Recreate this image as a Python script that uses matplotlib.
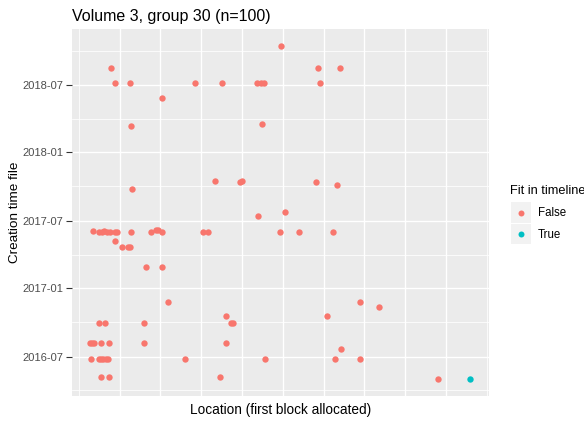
import numpy as np
import pandas as pd
import matplotlib
matplotlib.use("Agg")
import matplotlib.pyplot as plt
from matplotlib.patches import Rectangle
from matplotlib.lines import Line2D

plt.rcParams["font.family"] = ["Liberation Sans", "DejaVu Sans"]

TITLE = "Volume 3, group 30 (n=100)"
X_LABEL = "Location (first block allocated)"
Y_LABEL = "Creation time file"
LEGEND_TITLE = "Fit in timeline"
LEGEND_LABELS = ["False", "True"]

# x = location (arbitrary units, labels hidden in the original), y = creation date
loc_false = [
    4.95, 0.79, 5.87, 6.39, 0.89, 1.26, 2.86, 3.50, 4.37, 4.46, 4.54, 5.91,
    2.04, 1.28, 4.49, 3.34, 3.95, 3.99, 5.81, 6.32, 1.30, 4.39, 5.05,
    0.36, 0.50, 0.56, 0.61, 0.69, 0.77, 0.89, 0.95, 1.28, 1.76, 1.89, 1.95,
    2.05, 3.04, 3.17, 4.93, 5.39, 6.23,
    0.89, 1.07, 1.21, 1.26, 1.65, 2.05, 2.19, 6.88, 7.36, 3.62, 6.08,
    0.49, 0.64, 1.59, 3.73, 3.77,
    0.28, 0.33, 0.38, 0.55, 0.74, 1.59, 3.62, 6.42,
    0.30, 0.49, 0.55, 0.60, 0.66, 0.72, 2.61, 4.57, 6.27, 6.90,
    0.55, 0.74, 3.47, 8.79,
]
date_false = [
    "2018-10-12", "2018-08-16", "2018-08-16", "2018-08-16", "2018-07-07", "2018-07-07",
    "2018-07-07", "2018-07-07", "2018-07-07", "2018-07-07", "2018-07-07", "2018-07-07",
    "2018-05-28", "2018-03-12", "2018-03-18", "2017-10-16", "2017-10-13", "2017-10-16",
    "2017-10-13", "2017-10-06", "2017-09-25", "2017-07-14", "2017-07-24",
    "2017-06-03", "2017-05-31", "2017-05-31", "2017-06-03", "2017-05-31", "2017-05-31",
    "2017-05-31", "2017-05-31", "2017-05-31", "2017-05-31", "2017-06-06", "2017-06-06",
    "2017-05-31", "2017-05-31", "2017-05-31", "2017-05-31", "2017-05-31", "2017-05-31",
    "2017-05-08", "2017-04-22", "2017-04-22", "2017-04-22", "2017-02-27", "2017-02-27",
    "2016-11-25", "2016-11-25", "2016-11-11", "2016-10-19", "2016-10-19",
    "2016-09-29", "2016-09-29", "2016-09-29", "2016-09-29", "2016-09-29",
    "2016-08-06", "2016-08-06", "2016-08-06", "2016-08-06", "2016-08-06", "2016-08-06",
    "2016-08-06", "2016-07-21",
    "2016-06-25", "2016-06-25", "2016-06-25", "2016-06-25", "2016-06-25", "2016-06-25",
    "2016-06-25", "2016-06-25", "2016-06-25", "2016-06-25",
    "2016-05-08", "2016-05-08", "2016-05-08", "2016-05-02",
]
loc_true = [9.58]
date_true = ["2016-05-02"]

y_ticks = ["2016-07-01", "2017-01-01", "2017-07-01", "2018-01-01", "2018-07-01"]
y_tick_labels = ["2016-07", "2017-01", "2017-07", "2018-01", "2018-07"]
y_minor = ["2016-04-01", "2016-10-01", "2017-04-01", "2017-10-01", "2018-04-01", "2018-10-01"]

C_FALSE = "#F8766D"
C_TRUE = "#00BFC4"

W, H = 584, 421
fig = plt.figure(figsize=(W / 100, H / 100), dpi=100)
ax = fig.add_axes([72 / W, 1 - 395.7 / H, (489 - 72) / W, (395.7 - 29) / H])
ax.set_facecolor("#EBEBEB")

ax.scatter(loc_false, pd.to_datetime(date_false), s=21, color=C_FALSE, linewidths=0, zorder=3)
ax.scatter(loc_true, pd.to_datetime(date_true), s=21, color=C_TRUE, linewidths=0, zorder=3)

ax.set_xlim(-0.164, 10.05)
ax.set_ylim(pd.Timestamp("2016-03-18"), pd.Timestamp("2018-11-28"))

# grid lines, ggplot-style
ax.set_xticks(np.arange(1, 10))
ax.set_xticks([0, 10], minor=True)
ax.set_yticks(pd.to_datetime(y_ticks))
ax.set_yticklabels(y_tick_labels)
ax.set_yticks(pd.to_datetime(y_minor), minor=True)
ax.grid(which="major", color="white", linewidth=1.0)
ax.grid(which="minor", color="white", linewidth=0.55)
ax.set_axisbelow(True)

ax.tick_params(axis="x", which="both", length=0, labelbottom=False)
ax.tick_params(axis="y", which="major", length=4, width=0.8, color="#333333",
               labelcolor="#4D4D4D", labelsize=8, pad=2)
ax.tick_params(axis="y", which="minor", length=0)
for s in ax.spines.values():
    s.set_visible(False)

fig.text(72 / W, 1 - 16 / H, TITLE, fontsize=11.5, ha="left", va="center")
fig.text(280.5 / W, 1 - 410 / H, X_LABEL, fontsize=9.8, ha="center", va="center")
fig.text(15 / W, 1 - 212.4 / H, Y_LABEL, fontsize=9.7, ha="center", va="center", rotation=90)

# legend drawn by hand to mimic ggplot keys
fig.text(510 / W, 1 - 191 / H, LEGEND_TITLE, fontsize=9.2, ha="left", va="center")
for i, (lab, col) in enumerate(zip(LEGEND_LABELS, [C_FALSE, C_TRUE])):
    top = 202 + i * 21.5
    fig.add_artist(Rectangle((511 / W, 1 - (top + 20.5) / H), 20 / W, 20.5 / H,
                             transform=fig.transFigure, facecolor="#F2F2F2", edgecolor="none"))
    fig.add_artist(Line2D([521 / W], [1 - (top + 10.5) / H], transform=fig.transFigure,
                          marker="o", markersize=4.3, color=col, markeredgewidth=0))
    fig.text(538 / W, 1 - (top + 11) / H, lab, fontsize=8.3, ha="left", va="center")

fig.savefig("out.png", dpi=100)
